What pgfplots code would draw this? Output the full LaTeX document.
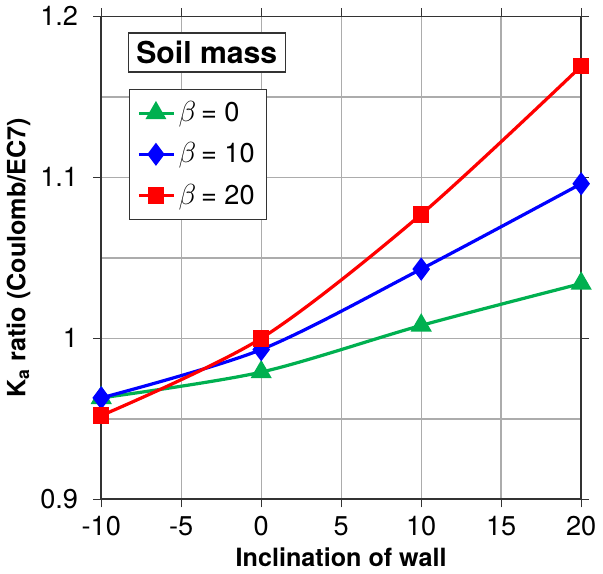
\documentclass[border=0pt]{standalone}
\usepackage{pgfplots}
\pgfplotsset{compat=1.18}
\usepackage{fontspec}
\setmainfont{TeX Gyre Heros}
\definecolor{sgreen}{RGB}{0,176,80}
\begin{document}
\begin{tikzpicture}
\begin{axis}[
  width=238.5pt, height=240pt,
  scale only axis,
  xmin=-10, xmax=20,
  ymin=0.9, ymax=1.2,
  xtick={-10,-5,...,20},
  ytick={0.9,1,1.1,1.2},
  minor ytick={0.95,1.05,1.15},
  yticklabels={0.9,1,1.1,1.2},
  grid=both,
  major grid style={gray!65, line width=0.7pt},
  minor grid style={gray!65, line width=0.7pt},
  tick align=outside,
  minor tick length=0pt,
  major tick length=4pt,
  axis line style={line width=0.8pt, black!80},
  tick style={black!80, line width=0.6pt},
  /pgf/number format/assume math mode=true,
  tick label style={font=\fontsize{13.5}{15}\selectfont},
  yticklabel style={xshift=-4pt},
  xticklabel style={yshift=-1pt},
  xlabel={\bfseries Inclination of wall},
  ylabel={\bfseries K$_{\mathbf{a}}$ ratio (Coulomb/EC7)},
  label style={font=\fontsize{12.5}{15}\selectfont},
  xlabel style={yshift=1pt},
  ylabel style={yshift=-2pt},
  legend style={at={(0.057,0.85)}, anchor=north west, draw=black!80, line width=0.6pt,
    font=\fontsize{13.5}{15}\selectfont, row sep=5pt, inner sep=4pt},
  legend cell align=left,
  legend image post style={line width=1.5pt},
]
\addplot[sgreen, line width=1.6pt, smooth, mark=triangle*, mark size=4.5pt] coordinates {(-10,0.963) (0,0.979) (10,1.008) (20,1.034)};
\addplot[blue, line width=1.6pt, smooth, mark=diamond*, mark size=4.5pt] coordinates {(-10,0.963) (0,0.993) (10,1.043) (20,1.096)};
\addplot[red, line width=1.6pt, smooth, mark=square*, mark size=3.3pt] coordinates {(-10,0.952) (0,1.000) (10,1.077) (20,1.169)};
\legend{$\beta\,$= 0, $\beta\,$= 10, $\beta\,$= 20}
\node[draw=black!80, line width=0.6pt, fill=white, anchor=north west, inner sep=4pt,
  font=\fontsize{15}{17}\selectfont\bfseries] at (axis cs:-8.35,1.19) {Soil mass};
\end{axis}
\end{tikzpicture}
\end{document}
